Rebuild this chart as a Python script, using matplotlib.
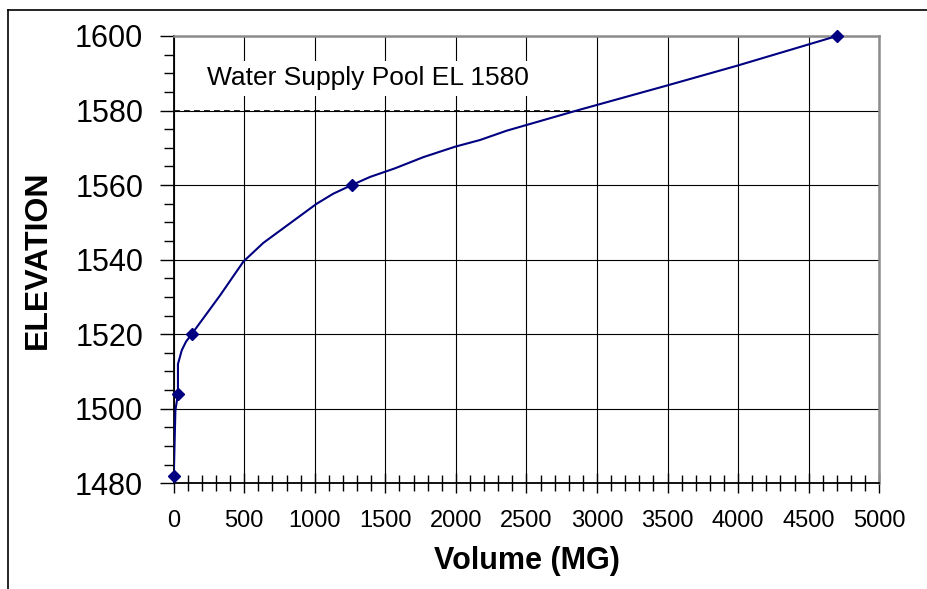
import numpy as np
import matplotlib
matplotlib.use("Agg")
import matplotlib.pyplot as plt
from matplotlib.lines import Line2D
from matplotlib.ticker import MultipleLocator

plt.rcParams['font.family'] = ['Liberation Sans', 'DejaVu Sans']

# storage curve (volume in MG vs elevation)
curve_vol = [0, 12, 30, 30, 57, 87, 127, 330, 494, 635, 1013, 1131, 1261, 1392,
             1568, 1769, 1994, 2171, 2360, 2856, 3494, 3990, 4700]
curve_elev = [1482, 1499.6, 1504, 1512, 1515.7, 1518, 1520, 1530.5, 1539.5, 1544.5,
              1555, 1557.7, 1560, 1562.2, 1564.5, 1567.5, 1570.3, 1572.1, 1574.6,
              1580, 1586.7, 1592, 1600]

# surveyed points
pt_vol = [0, 30, 127, 1261, 4700]
pt_elev = [1482, 1504, 1520, 1560, 1600]

pool_elev = 1580
pool_vol_end = 2840
pool_label = "Water Supply Pool EL 1580"

fig = plt.figure(figsize=(9.27, 5.89), dpi=100)
ax = fig.add_axes([0.1874, 0.1794, 0.9485 - 0.1874, 0.9389 - 0.1794])

ax.plot(curve_vol, curve_elev, color="#000080", linewidth=1.5, zorder=3)
ax.plot(pt_vol, pt_elev, linestyle="none", marker="D", markersize=6.5,
        color="#000080", zorder=4, clip_on=False)
ax.plot([0, pool_vol_end], [pool_elev, pool_elev], color="black",
        linestyle=(0, (3.5, 2.5)), linewidth=1.2, zorder=2)

ax.text(236, 1588.7, pool_label, fontsize=19, va="center", ha="left", zorder=5,
        bbox=dict(facecolor="white", edgecolor="none", pad=4))

ax.set_xlim(0, 5000)
ax.set_ylim(1480, 1600)
ax.xaxis.set_major_locator(MultipleLocator(500))
ax.xaxis.set_minor_locator(MultipleLocator(100))
ax.yaxis.set_major_locator(MultipleLocator(20))
ax.yaxis.set_minor_locator(MultipleLocator(5))

ax.grid(True, which="major", color="black", linewidth=0.8)
ax.set_axisbelow(True)

ax.tick_params(axis="x", which="major", direction="inout", length=14, width=1,
               labelsize=17, pad=12)
ax.tick_params(axis="x", which="minor", direction="inout", length=12, width=1)
ax.tick_params(axis="y", which="major", direction="out", length=10, width=1,
               labelsize=22, pad=12)
ax.tick_params(axis="y", which="minor", direction="out", length=7, width=1)

for s in ("left", "bottom"):
    ax.spines[s].set_color("black")
    ax.spines[s].set_linewidth(1.3)
for s in ("top", "right"):
    ax.spines[s].set_color("#8c8c8c")
    ax.spines[s].set_linewidth(1.8)

ax.set_xlabel("Volume (MG)", fontsize=22, fontweight="bold", labelpad=10)
ax.set_ylabel("ELEVATION", fontsize=23, fontweight="bold", labelpad=16)

# outer chart border (top and left visible)
fig.add_artist(Line2D([8 / 927, 1.0], [1 - 10 / 589, 1 - 10 / 589],
                      color="black", linewidth=1.2, transform=fig.transFigure))
fig.add_artist(Line2D([8 / 927, 8 / 927], [0.0, 1 - 10 / 589],
                      color="black", linewidth=1.2, transform=fig.transFigure))

fig.savefig("out.png", dpi=100)
